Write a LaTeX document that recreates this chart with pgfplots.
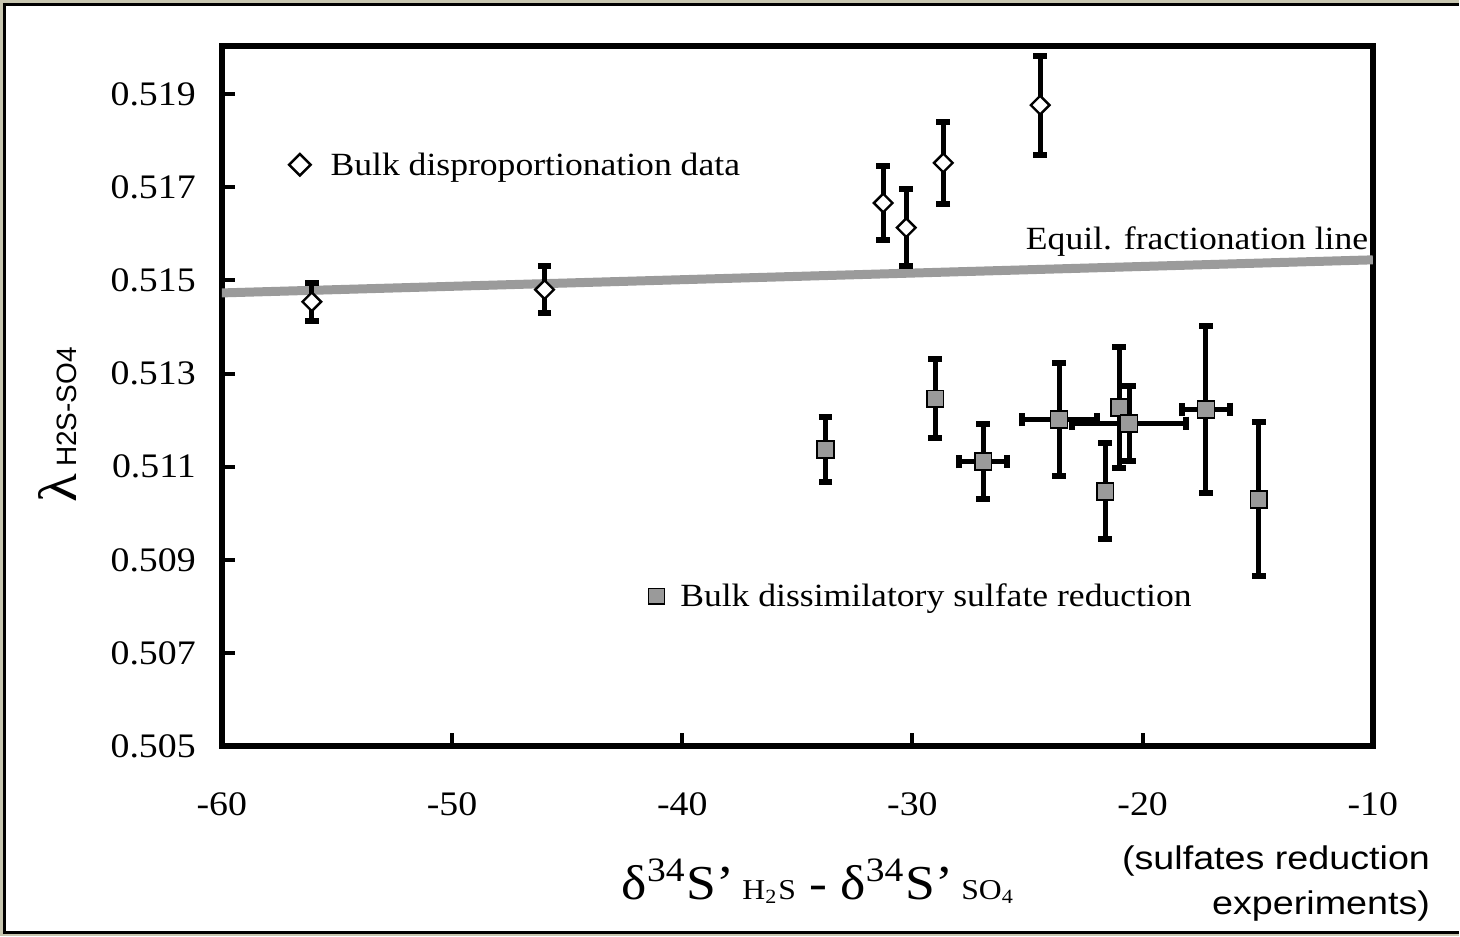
\documentclass[border=0pt]{standalone}
\usepackage{fontspec}
\setmainfont{Liberation Serif}[FakeStretch=1.1]
\setsansfont{Liberation Sans}
\newfontfamily\arialw{Liberation Sans}[FakeStretch=1.15]
\usepackage{pgfplots}
\pgfplotsset{compat=1.18}
\definecolor{framebg}{HTML}{C8C6B0}
\definecolor{eqgray}{HTML}{9B9B9B}
\definecolor{sqgray}{HTML}{9A9A9A}
\pgfplotstableread{
x y ey
-56.09 0.51454 0.00041
-45.98 0.51480 0.00051
-31.27 0.51666 0.00079
-30.27 0.51613 0.00083
-28.66 0.51752 0.00088
-24.45 0.51876 0.00106
}\disprop
\pgfplotstableread{
x y ey
-33.78 0.51137 0.00070
-29.01 0.51246 0.00085
-21.63 0.51047 0.00103
-21.02 0.51227 0.00130
-14.95 0.51030 0.00165
}\dsrA
\pgfplotstableread{
x y ex ey
-26.93 0.51111 1.04 0.00080
-23.63 0.51201 1.63 0.00121
-20.59 0.51193 2.47 0.00080
-17.25 0.51223 1.04 0.00180
}\dsrB
\begin{document}
\begin{tikzpicture}[x=1pt,y=1pt]
\fill[framebg] (0,0) rectangle (365,234.25);
\fill[white] (1.1,0.9) rectangle (365,233.15);
\draw[black, line width=0.6pt] (365,0.9) -- (1.1,0.9) -- (1.1,233.15) -- (365,233.15);
\begin{axis}[
  at={(55.5pt,47.5pt)}, anchor=south west,
  scale only axis, width=288pt, height=175.25pt,
  xmin=-60, xmax=-10, ymin=0.505, ymax=0.52003,
  axis line style={line width=1.5pt, black},
  xtick={-60,-50,-40,-30,-20,-10},
  xticklabels={-60,-50,-40,-30,-20,-10},
  ytick={0.505,0.507,0.509,0.511,0.513,0.515,0.517,0.519},
  yticklabels={0.505,0.507,0.509,0.511,0.513,0.515,0.517,0.519},
  tick align=inside, xtick pos=bottom, ytick pos=left,
  major tick length=3.25pt,
  every tick/.style={black, line width=1pt},
  ticklabel style={font=\fontsize{8.6}{10}\selectfont},
  xticklabel style={yshift=-8pt},
  yticklabel style={xshift=-3pt},
]
\addplot[color=eqgray, line width=2.25pt, forget plot] coordinates {(-60,0.51473) (-10,0.51544)};
\addplot[only marks, mark=square*, mark size=1.65pt,
  mark options={rotate=45, fill=white, draw=black, line width=0.6pt},
  error bars/.cd, y dir=both, y explicit,
  error bar style={line width=1.25pt, black},
  error mark options={rotate=90, line width=1.5pt, mark size=1.7pt, black}]
  table[x=x, y=y, y error=ey] {\disprop};
\addplot[only marks, mark=square*, mark size=2.1pt,
  mark options={fill=sqgray, draw=black, line width=0.4pt},
  error bars/.cd, y dir=both, y explicit,
  error bar style={line width=1.25pt, black},
  error mark options={rotate=90, line width=1.5pt, mark size=1.7pt, black}]
  table[x=x, y=y, y error=ey] {\dsrA};
\addplot[only marks, mark=square*, mark size=2.1pt,
  mark options={fill=sqgray, draw=black, line width=0.4pt},
  error bars/.cd, y dir=both, y explicit, x dir=both, x explicit,
  error bar style={line width=1.25pt, black},
  error mark options={rotate=90, line width=1.5pt, mark size=1.7pt, black}]
  table[x=x, y=y, x error=ex, y error=ey] {\dsrB};
% legend-like markers
\addplot[only marks, mark=square*, mark size=1.9pt,
  mark options={rotate=45, fill=white, draw=black, line width=0.6pt}]
  coordinates {(-56.61,0.51748)};
\addplot[only marks, mark=square*, mark size=2.0pt,
  mark options={fill=sqgray, draw=black, line width=0.4pt}]
  coordinates {(-41.12,0.50822)};
\node[anchor=base west, inner sep=0, font=\fontsize{8.1}{10}\selectfont] at (axis cs:-55.31,0.51726) {Bulk disproportionation data};
\node[anchor=base east, inner sep=0, font=\fontsize{8.1}{10}\selectfont] at (axis cs:-10.17,0.51566) {Equil. fractionation line};
\node[anchor=base west, inner sep=0, font=\fontsize{8.1}{10}\selectfont] at (axis cs:-40.12,0.50800) {Bulk dissimilatory sulfate reduction};
\end{axis}
\node[rotate=90, anchor=base, inner sep=0] at (19.25,128) {{\fontsize{13.5}{15}\selectfont λ}\,{\sffamily\fontsize{7}{8}\selectfont H2S-SO4}};
\node[anchor=base, inner sep=0] at (204.75,9.25) {\fontsize{12.2}{14}\selectfont δ\textsuperscript{34}S’\,{\fontsize{7.2}{9}\selectfont H\textsubscript{2}S} - δ\textsuperscript{34}S’\,{\fontsize{7.2}{9}\selectfont SO\textsubscript{4}}};
\node[anchor=base east, inner sep=0, font=\arialw\fontsize{8.2}{10}\selectfont] at (358,16.75) {(sulfates reduction};
\node[anchor=base east, inner sep=0, font=\arialw\fontsize{8.2}{10}\selectfont] at (358,5.5) {experiments)};
\end{tikzpicture}
\end{document}
